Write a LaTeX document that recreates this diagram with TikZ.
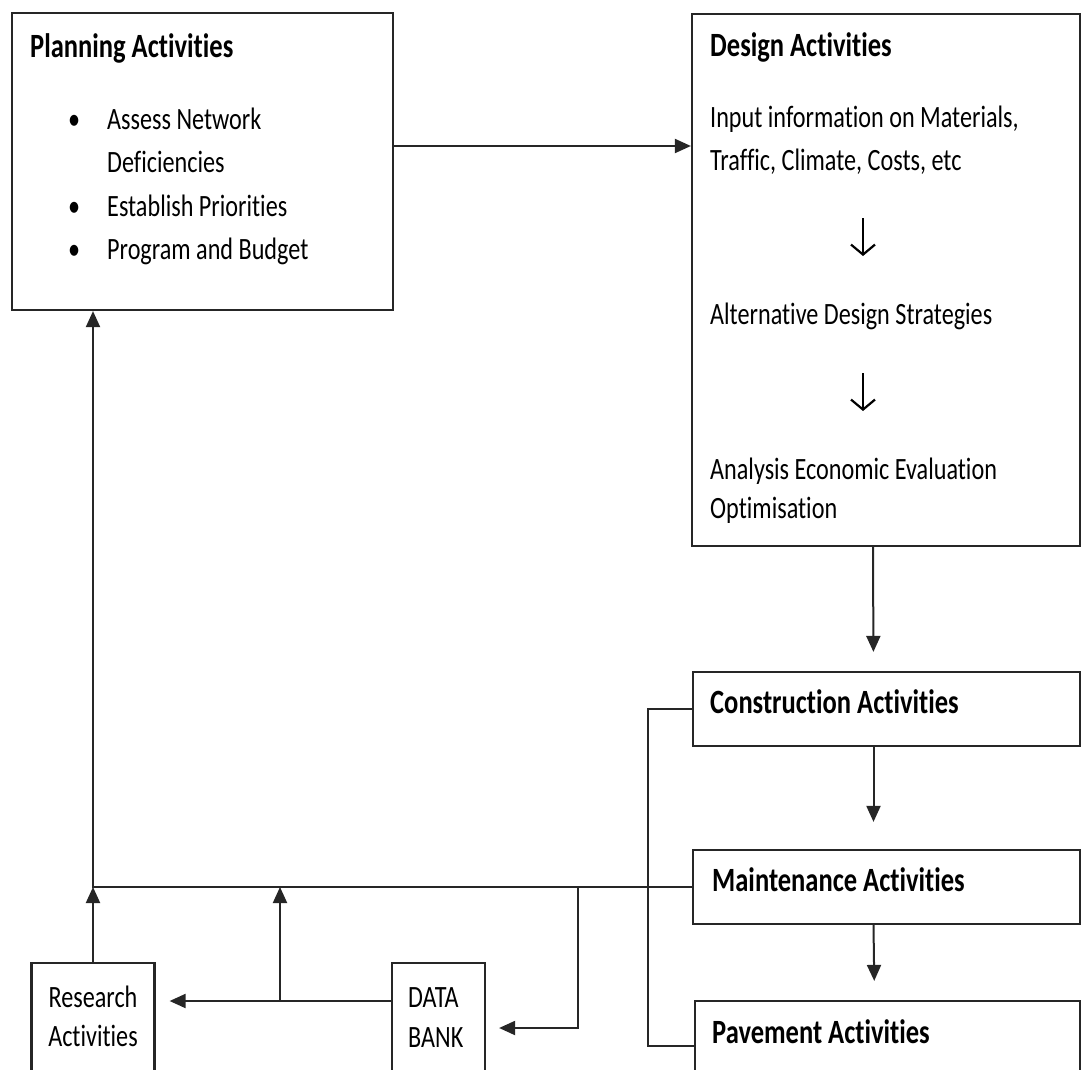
\documentclass[tikz,border=0pt]{standalone}
\usepackage{fontspec}
\setmainfont{Carlito}[FakeStretch=0.78, Ligatures={NoCommon,NoContextual}, Contextuals=NoAlternate]
\usetikzlibrary{arrows.meta, positioning}

\begin{document}
\begin{tikzpicture}[x=1pt, y=-1pt,
    box/.style={draw=black!85, line width=2.2pt, inner sep=0pt},
    txt/.style={anchor=base west, inner sep=0pt, font=\fontsize{31pt}{43pt}\selectfont},
    head/.style={txt, font=\fontsize{34pt}{40pt}\selectfont\bfseries},
    arr/.style={draw=black!85, line width=2pt, -{Triangle[length=16pt, width=14pt]}},
    dn/.style={line width=2.2pt, -{Straight Barb[length=10pt, width=24pt]}}]
    \clip (0,0) rectangle (1082,1070);

    % boxes
    \node[box, minimum width=381pt, minimum height=297pt] (plan) at (202.2,161.5) {};
    \node[box, minimum width=388pt, minimum height=532pt] (design) at (886,280) {};
    \node[box, minimum width=387pt, minimum height=74pt] (constr) at (886.5,709) {};
    \node[box, minimum width=387pt, minimum height=74pt] (maint) at (886.5,887) {};
    \node[box, minimum width=385pt, minimum height=90pt] (pave) at (887.5,1046) {};
    \node[box, minimum width=123pt, minimum height=130pt] (research) at (93,1028) {};
    \node[box, minimum width=93pt, minimum height=130pt] (databank) at (438.5,1028) {};

    % planning text
    \node[head] (planT) at (30,58) {Planning Activities};
    \node[txt] (plan1) at (107,130) {Assess Network};
    \node[txt] (plan1b) at (107,172) {Deficiencies};
    \node[txt] (plan2) at (107,216) {Establish Priorities};
    \node[txt] (plan3) at (107,259) {Program and Budget};
    \foreach \y in {130,216,259}
        \node[txt] at (68,\y) {\textbullet};

    % design text
    \node[head] (designT) at (710,57) {Design Activities};
    \node[txt] (inp1) at (710,128) {Input information on Materials,};
    \node[txt] (inp2) at (710,171) {Traffic, Climate, Costs, etc};
    \node[txt] (alt) at (710,324) {Alternative Design Strategies};
    \node[txt] (ana1) at (710,479) {Analysis Economic Evaluation};
    \node[txt] (ana2) at (710,518) {Optimisation};
    \coordinate (dnA) at (863,218);
    \coordinate (dnB) at (863,373);
    \draw[dn] (dnA) -- ++(0,38);
    \draw[dn] (dnB) -- ++(0,38);

    % other labels
    \node[head] (constrT) at (710,713) {Construction Activities};
    \node[head] (maintT) at (712,891) {Maintenance Activities};
    \node[head] (paveT) at (712,1043) {Pavement Activities};
    \node[txt, anchor=base] (res1) at (93,1007) {Research};
    \node[txt, anchor=base] (res2) at (93,1046) {Activities};
    \node[txt] (db1) at (408,1007) {DATA};
    \node[txt] (db2) at (408,1047) {BANK};

    % junctions
    \coordinate (hubL) at (93,887);
    \coordinate (hubR) at (578,887);
    \coordinate (midJ) at (280,1001);

    % connectors
    \draw[arr] ([yshift=15.5pt]plan.east) -- ([yshift=15.5pt]plan.east -| design.west);
    \draw[arr, shorten >=19pt] ([xshift=-13pt]design.south) -- ([xshift=-13pt]constr.north);
    \draw[arr, shorten >=27pt] ([xshift=-13pt]constr.south) -- ([xshift=-13pt]maint.north);
    \draw[arr, shorten >=19pt] ([xshift=-13pt]maint.south) -- ([xshift=-13pt]pave.north);
    \draw[draw=black!85, line width=2pt] (constr.west) -- ++(-44,0) |- (pave.west);
    \draw[arr] (maint.west) -- (hubL) -- (hubL |- plan.south);
    \draw[arr] (research.north) -- (hubL);
    \draw[arr, shorten >=14pt] ([yshift=27pt]databank.west) -- ([yshift=27pt]research.east);
    \draw[arr] (midJ) -- (midJ |- hubL);
    \draw[arr, shorten >=13pt] (hubR) |- (databank.east);

\end{tikzpicture}
\end{document}
